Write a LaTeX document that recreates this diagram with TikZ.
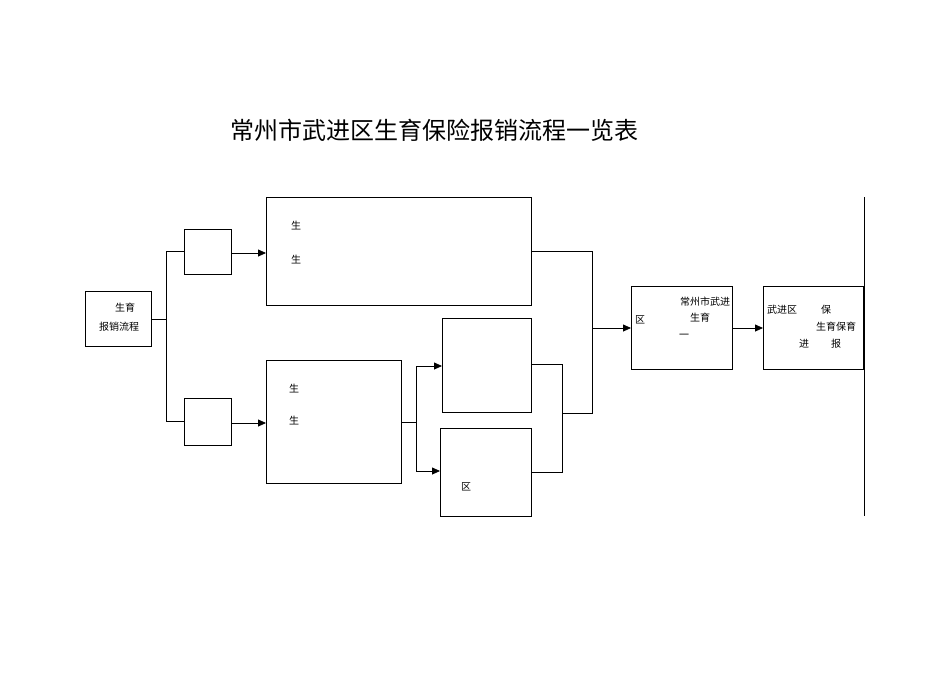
\documentclass[tikz,border=0pt]{standalone}
\usepackage{fontspec}
\newfontfamily\cjk{Noto Sans CJK SC}
\usetikzlibrary{arrows.meta}
\begin{document}
\begin{tikzpicture}[x=1pt,y=-1pt,
  bx/.style={draw,line width=0.8pt},
  tx/.style={font=\cjk\fontsize{10}{12}\selectfont,inner sep=0pt},
  ln/.style={line width=0.8pt},
  ar/.style={ln,-{Triangle[length=8pt,width=7pt]}}]
\useasboundingbox (0,0) rectangle (950,672);
\node[font=\cjk\fontsize{24}{28}\selectfont] (title) at (434,130) {常州市武进区生育保险报销流程一览表};
\draw[bx] (85,291) rectangle (151,346);
\coordinate (L) at (151,319);
\node[tx] (l1) at (125,308) {生育};
\node[tx] (l2) at (119,327) {报销流程};
\draw[bx] (184,229) rectangle (231,274);
\draw[bx] (184,398) rectangle (231,445);
\draw[bx] (266,197) rectangle (531,305);
\node[tx] (t1) at (296,226) {生};
\node[tx] (t2) at (296,260) {生};
\draw[bx] (266,360) rectangle (401,483);
\node[tx] (b1) at (294,389) {生};
\node[tx] (b2) at (294,421) {生};
\draw[bx] (442,318) rectangle (531,412);
\draw[bx] (440,428) rectangle (531,516);
\node[tx] (m1) at (466,487) {区};
\draw[bx] (631,286) rectangle (732,369);
\node[tx] (r1) at (705,302) {常州市武进};
\node[tx] (r2) at (640,320) {区};
\node[tx] (r3) at (700,318) {生育};
\node[tx] (r4) at (684,336) {一};
\draw[bx] (763,286) rectangle (863,369);
\node[tx] (s1) at (782,310) {武进区};
\node[tx] (s2) at (826,310) {保};
\node[tx] (s3) at (836,327) {生育保育};
\node[tx] (s4) at (804,344) {进};
\node[tx] (s5) at (836,344) {报};
\draw[ln] (864,197) -- (864,516);
% connectors
\draw[ln] (151,319) -- (166,319);
\draw[ln] (184,251) -- (166,251) -- (166,421) -- (184,421);
\draw[ar] (231,253) -- (266,253);
\draw[ar] (231,423) -- (266,423);
\draw[ln] (531,251) -- (592,251) -- (592,413) -- (562,413);
\draw[ln] (531,364) -- (562,364) -- (562,472) -- (531,472);
\draw[ar] (592,328) -- (631,328);
\draw[ln] (401,422) -- (416,422);
\draw[ar] (416,366) -- (442,366);
\draw[ln] (416,366) -- (416,471);
\draw[ar] (416,471) -- (440,471);
\draw[ar] (732,328) -- (763,328);
\end{tikzpicture}
\end{document}
